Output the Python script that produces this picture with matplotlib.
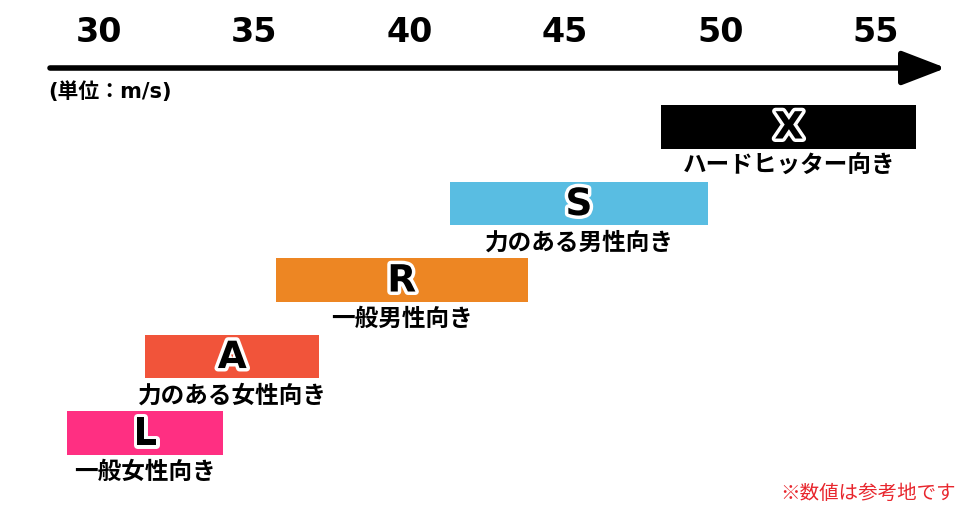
import matplotlib
matplotlib.use("Agg")
import matplotlib.pyplot as plt
import matplotlib.patheffects as pe

plt.rcParams['font.family'] = ['Noto Sans CJK JP', 'DejaVu Sans']
LATIN = ['DejaVu Sans', 'Noto Sans CJK JP']

# data (head speed range, m/s)
models = ['L', 'A', 'R', 'S', 'X']
targets = ['一般女性向き', '力のある女性向き', '一般男性向き', '力のある男性向き', 'ハードヒッター向き']
speed_min = [29.0, 31.5, 35.7, 41.3, 48.1]
speed_max = [34.0, 37.1, 43.8, 49.6, 56.3]
colors = ['#ff2f82', '#f1543a', '#ed8623', '#59bde2', '#000000']
ticks = [30, 35, 40, 45, 50, 55]

fig = plt.figure(figsize=(9.8, 5.3), dpi=100)
ax = fig.add_axes([0, 0, 1, 462 / 530])

rows = list(range(len(models)))
widths = [b - a for a, b in zip(speed_min, speed_max)]
bar_h = 0.575
ax.barh(rows, widths, left=speed_min, height=bar_h, color=colors)

for i, (m, t) in enumerate(zip(models, targets)):
    cx = (speed_min[i] + speed_max[i]) / 2
    ax.text(cx, i - 0.02, m, ha='center', va='center', fontsize=27,
            fontweight='bold', color='black', family=LATIN,
            path_effects=[pe.withStroke(linewidth=5, foreground='white')])
    ax.annotate(t, xy=(cx, i - bar_h / 2), xytext=(0, -12),
                textcoords='offset points', ha='center', va='center',
                fontsize=17, fontweight='bold', color='black')

x0 = 30 - 98.5 / 31.1
ax.set_xlim(x0, x0 + 980 / 31.1)
ax.set_ylim(-1.268, -1.268 + 462 / 76.5)

ax.xaxis.tick_top()
ax.set_xticks(ticks)
ax.set_xticklabels([str(t) for t in ticks], fontsize=24, fontweight='bold',
                   family=LATIN)
ax.tick_params(axis='x', length=0, pad=14)
ax.set_yticks([])
for s in ax.spines.values():
    s.set_visible(False)

# axis arrow
ax.annotate('', xy=(946 / 980, 1.0), xytext=(50 / 980, 1.0),
            xycoords='axes fraction', textcoords='axes fraction',
            arrowprops=dict(arrowstyle='-|>,head_length=1.35,head_width=0.52',
                            lw=4, color='black', mutation_scale=20,
                            shrinkA=0, shrinkB=0), annotation_clip=False)

fig.text(48 / 980, 1 - 92 / 530, '(単位：m/s)', ha='left', va='center',
         fontsize=15, fontweight='bold', family=LATIN)
fig.text(780 / 980, 1 - 493 / 530, '※数値は参考地です', ha='left', va='center',
         fontsize=14, color='#e8262d')

fig.savefig('out.png', dpi=100)
